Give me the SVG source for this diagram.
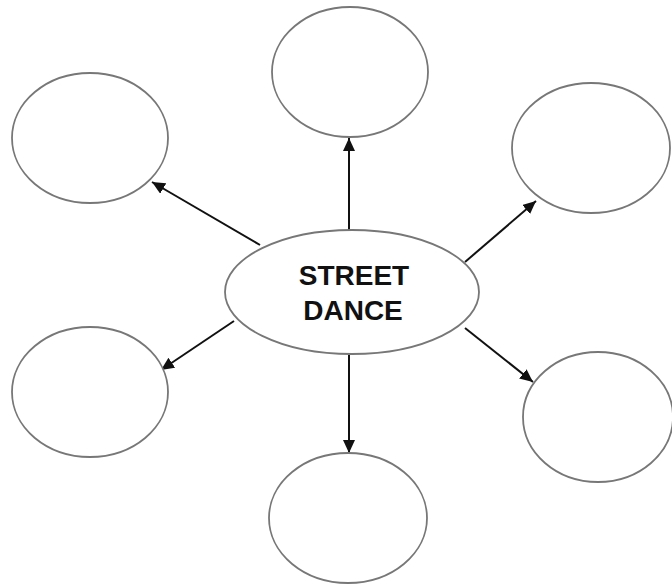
<svg xmlns="http://www.w3.org/2000/svg" width="672" height="586" viewBox="0 0 672 586">
<style>
.node{fill:#ffffff;stroke:#777777;stroke-width:1.8}
.edge{stroke:#111111;stroke-width:2;fill:none;marker-end:url(#arr)}
.lbl{font-family:"Liberation Sans",Arial,sans-serif;font-size:28px;font-weight:bold;fill:#111111;text-anchor:middle}
</style>
<defs>
<marker id="arr" markerUnits="userSpaceOnUse" markerWidth="14" markerHeight="12" refX="13" refY="6" orient="auto">
<path d="M0,0 L13,6 L0,12 z" fill="#111111"/>
</marker>
</defs>
<rect width="672" height="586" fill="#ffffff"/>
<g id="connectors">
<line class="edge" x1="349" y1="230" x2="349" y2="138"/>
<line class="edge" x1="260" y1="245" x2="152" y2="182"/>
<line class="edge" x1="465" y1="262" x2="536" y2="201"/>
<line class="edge" x1="234" y1="321" x2="161" y2="370"/>
<line class="edge" x1="465" y1="328" x2="533" y2="382"/>
<line class="edge" x1="349" y1="355" x2="349" y2="453"/>
</g>
<g id="center">
<ellipse class="node" cx="352" cy="292" rx="127" ry="62"/>
<text class="lbl" x="354" y="285">STREET</text>
<text class="lbl" x="353" y="320">DANCE</text>
</g>
<g id="top"><ellipse class="node" cx="350" cy="72" rx="78" ry="65"/></g>
<g id="top-left"><ellipse class="node" cx="90" cy="138" rx="78" ry="65"/></g>
<g id="top-right"><ellipse class="node" cx="591" cy="148" rx="79" ry="65"/></g>
<g id="bottom-left"><ellipse class="node" cx="90" cy="392" rx="78" ry="65"/></g>
<g id="bottom-right"><ellipse class="node" cx="598" cy="417" rx="75" ry="65"/></g>
<g id="bottom"><ellipse class="node" cx="348" cy="518" rx="79" ry="65"/></g>
</svg>
